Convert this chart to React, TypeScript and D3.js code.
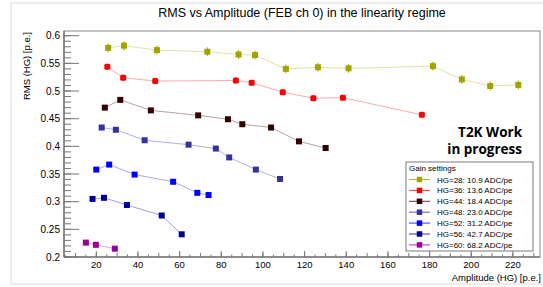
import React, { useRef, useEffect } from "react";
import * as d3 from "d3";

// values
const labels = [
  "HG=28: 10.9 ADC/pe",
  "HG=36: 13.6 ADC/pe",
  "HG=44: 18.4 ADC/pe",
  "HG=48: 23.0 ADC/pe",
  "HG=52: 31.2 ADC/pe",
  "HG=56: 42.7 ADC/pe",
  "HG=60: 68.2 ADC/pe",
];
const x28 = [25.7, 33.3, 49.1, 73.3, 88.3, 96.2, 111.0, 126.4, 141.1, 181.6, 195.5, 209.1, 222.6];
const y28 = [0.578, 0.582, 0.574, 0.571, 0.566, 0.565, 0.54, 0.543, 0.541, 0.545, 0.521, 0.509, 0.511];
const e28 = [0.008, 0.008, 0.008, 0.008, 0.008, 0.008, 0.008, 0.008, 0.008, 0.008, 0.008, 0.008, 0.008];
const x36 = [25.3, 32.9, 48.3, 87.0, 94.6, 109.5, 124.2, 138.4, 176.3];
const y36 = [0.544, 0.524, 0.518, 0.519, 0.515, 0.498, 0.487, 0.488, 0.457];
const e36 = [0.005, 0.005, 0.005, 0.005, 0.005, 0.005, 0.005, 0.005, 0.005];
const x44 = [24.1, 31.5, 46.2, 68.9, 83.2, 90.1, 103.9, 117.3, 130.1];
const y44 = [0.47, 0.484, 0.465, 0.456, 0.449, 0.44, 0.434, 0.409, 0.397];
const x48 = [22.6, 29.4, 43.2, 64.3, 77.4, 83.8, 96.6, 108.2];
const y48 = [0.434, 0.43, 0.411, 0.403, 0.396, 0.38, 0.358, 0.341];
const x52 = [20.0, 26.2, 38.4, 56.9, 68.5, 73.9];
const y52 = [0.358, 0.367, 0.349, 0.336, 0.316, 0.312];
const x56 = [18.2, 23.7, 34.7, 51.4, 61.0];
const y56 = [0.305, 0.307, 0.294, 0.275, 0.241];
const x60 = [15.0, 19.8, 28.9];
const y60 = [0.226, 0.222, 0.215];

const yTicks = [0.2, 0.25, 0.3, 0.35, 0.4, 0.45, 0.5, 0.55, 0.6];
const yTickLabels = ["0.2", "0.25", "0.3", "0.35", "0.4", "0.45", "0.5", "0.55", "0.6"];
const xTicks = [20, 40, 60, 80, 100, 120, 140, 160, 180, 200, 220];
const xTickLabels = ["20", "40", "60", "80", "100", "120", "140", "160", "180", "200", "220"];

const markerColors = ["#a3a300", "#ff0000", "#330000", "#333399", "#0000ff", "#000099", "#990099"];
const lineColors = ["#e2e2a8", "#ffaaaa", "#b8a2a2", "#b0b0e0", "#a8a8f4", "#a0a0e0", "#e0a8e0"];

const FONT = "'Liberation Sans', Arial, Helvetica, sans-serif";

const App = () => {
  const svgRef = useRef(null);

  useEffect(() => {
    document.body.style.margin = "0";
    const svg = d3.select(svgRef.current);
    svg.selectAll("*").remove();

    const left = 64, right = 540, top = 31, bottom = 257;
    const x = d3.scaleLinear().domain([4.5, 233]).range([left, right]);
    const y = d3.scaleLinear().domain([0.2, 0.6085]).range([bottom, top]);

    // outer canvas border
    svg.append("rect")
      .attr("x", 11).attr("y", 3).attr("width", 560).attr("height", 281)
      .attr("fill", "white").attr("stroke", "#dcdcdc");

    // title
    svg.append("text")
      .attr("x", (left + right) / 2).attr("y", 17)
      .attr("text-anchor", "middle")
      .style("font-family", FONT).style("font-size", "12.5px")
      .text("RMS vs Amplitude (FEB ch 0) in the linearity regime");

    // frame
    svg.append("rect")
      .attr("x", left).attr("y", top).attr("width", right - left).attr("height", bottom - top)
      .attr("fill", "none").attr("stroke", "#8a8a8a");
    svg.append("line").attr("x1", left).attr("x2", left).attr("y1", top).attr("y2", bottom).attr("stroke", "#555");
    svg.append("line").attr("x1", left).attr("x2", right).attr("y1", bottom).attr("y2", bottom).attr("stroke", "#555");

    // y ticks
    const yMinor = d3.range(0.2, 0.6085, 0.01);
    svg.append("g").selectAll("line").data(yMinor).join("line")
      .attr("x1", left).attr("x2", left + 7)
      .attr("y1", (d) => y(d)).attr("y2", (d) => y(d))
      .attr("stroke", "#777");
    svg.append("g").selectAll("line").data(yTicks).join("line")
      .attr("x1", left).attr("x2", left + 15)
      .attr("y1", (d) => y(d)).attr("y2", (d) => y(d))
      .attr("stroke", "#777");
    svg.append("g").selectAll("text").data(yTicks).join("text")
      .attr("x", 60).attr("y", (d) => y(d) + 3.5)
      .attr("text-anchor", "end")
      .style("font-family", FONT).style("font-size", "10px")
      .text((d, i) => yTickLabels[i]);

    // x ticks
    const xMinor = d3.range(5, 233, 5);
    svg.append("g").selectAll("line").data(xMinor).join("line")
      .attr("x1", (d) => x(d)).attr("x2", (d) => x(d))
      .attr("y1", bottom).attr("y2", (d) => bottom - (d % 10 === 0 ? 4 : 2.5))
      .attr("stroke", "#777");
    svg.append("g").selectAll("line").data(xTicks).join("line")
      .attr("x1", (d) => x(d)).attr("x2", (d) => x(d))
      .attr("y1", bottom).attr("y2", bottom - 6)
      .attr("stroke", "#777");
    svg.append("g").selectAll("text").data(xTicks).join("text")
      .attr("x", (d) => x(d)).attr("y", 267.5)
      .attr("text-anchor", "middle")
      .style("font-family", FONT).style("font-size", "9.5px")
      .text((d, i) => xTickLabels[i]);

    // axis titles
    svg.append("text")
      .attr("x", 541).attr("y", 280.5)
      .attr("text-anchor", "end")
      .style("font-family", FONT).style("font-size", "9.5px")
      .text("Amplitude (HG) [p.e.]");
    svg.append("text")
      .attr("transform", `translate(29.5, ${top + 1}) rotate(-90)`)
      .attr("text-anchor", "end")
      .style("font-family", FONT).style("font-size", "9.5px")
      .text("RMS (HG) [p.e.]");

    // series
    const series = [
      { xs: x28, ys: y28, es: e28 },
      { xs: x36, ys: y36, es: e36 },
      { xs: x44, ys: y44, es: null },
      { xs: x48, ys: y48, es: null },
      { xs: x52, ys: y52, es: null },
      { xs: x56, ys: y56, es: null },
      { xs: x60, ys: y60, es: null },
    ];
    const line = d3.line().x((d) => x(d[0])).y((d) => y(d[1]));
    const ms = 6;
    series.forEach((s, k) => {
      const pts = s.xs.map((v, i) => [v, s.ys[i], s.es ? s.es[i] : 0]);
      const g = svg.append("g");
      g.append("path").attr("d", line(pts)).attr("fill", "none")
        .attr("stroke", lineColors[k]).attr("stroke-width", 1);
      if (s.es) {
        g.selectAll("line.err").data(pts).join("line")
          .attr("class", "err")
          .attr("x1", (d) => x(d[0])).attr("x2", (d) => x(d[0]))
          .attr("y1", (d) => y(d[1] - d[2])).attr("y2", (d) => y(d[1] + d[2]))
          .attr("stroke", markerColors[k]).attr("stroke-width", 1);
      }
      g.selectAll("rect").data(pts).join("rect")
        .attr("x", (d) => x(d[0]) - ms / 2).attr("y", (d) => y(d[1]) - ms / 2)
        .attr("width", ms).attr("height", ms)
        .attr("rx", k === 1 ? 1.5 : 0)
        .attr("fill", markerColors[k]);
    });

    // T2K label
    const t2k = svg.append("text")
      .attr("text-anchor", "end")
      .style("font-family", "'Open Sans', sans-serif").style("font-weight", "bold").style("font-size", "13.5px");
    t2k.append("tspan").attr("x", 522).attr("y", 137).text("T2K Work");
    t2k.append("tspan").attr("x", 522).attr("y", 154).text("in progress");

    // legend
    const lx = 406, ly = 162, lw = 127, lh = 89;
    svg.append("rect").attr("x", lx).attr("y", ly).attr("width", lw).attr("height", lh)
      .attr("fill", "white").attr("stroke", "#555").attr("stroke-width", 0.8);
    svg.append("text").attr("x", lx + 3).attr("y", ly + 8.5)
      .style("font-family", FONT).style("font-size", "8px")
      .text("Gain settings");
    const lg = svg.append("g").selectAll("g").data(labels).join("g")
      .attr("transform", (d, i) => `translate(0, ${179.5 + i * 10.9})`);
    lg.append("line").attr("x1", 409).attr("x2", 430).attr("y1", 0).attr("y2", 0)
      .attr("stroke", (d, i) => markerColors[i]).attr("stroke-width", 0.8);
    lg.append("rect").attr("x", 419.5 - 2.75).attr("y", -2.75).attr("width", 5.5).attr("height", 5.5)
      .attr("fill", (d, i) => markerColors[i]);
    lg.append("text").attr("x", 437).attr("y", 3)
      .style("font-family", FONT).style("font-size", "8px")
      .text((d) => d);
  }, []);

  return (
    <svg ref={svgRef} width={543} height={287} style={{ display: "block", background: "white" }}></svg>
  );
};

export default App;
